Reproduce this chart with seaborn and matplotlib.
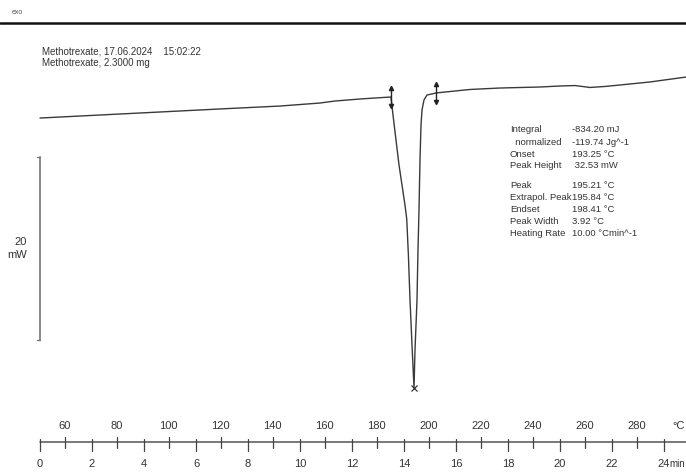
import numpy as np
import pandas as pd
import matplotlib
matplotlib.use("Agg")
import matplotlib.pyplot as plt
import seaborn as sns

# ---------------- data ----------------
temperature = [50.5, 73.6, 96.7, 119.7, 142.8, 158.2, 164.0, 173.6, 185.5,
               186.27, 187.42, 188.58, 189.73, 190.88, 191.55, 192.2, 192.81, 193.58, 194.35,
               194.73, 195.5, 195.88, 196.27, 196.65, 197.04, 197.42, 198.19, 199.35, 201.27, 202.8,
               215.9, 227.4, 242.8, 250.5, 256.3, 262.0, 267.8, 273.6, 285.1, 299.0]
heat_flow = [-1.97, -1.64, -1.31, -0.98, -0.66, -0.33, -0.11, 0.11, 0.33,
             -1.64, -4.37, -7.10, -9.29, -11.48, -13.0, -17.0, -21.86, -26.78, -31.48,
             -27.32, -21.86, -16.39, -12.02, -6.56, -2.73, -1.09, 0.0, 0.55, 0.66, 0.77,
             1.15, 1.31, 1.42, 1.53, 1.58, 1.37, 1.48, 1.64, 1.97, 2.51]

limits_T = [185.5, 202.8]           # integration limits
limits_mW = [0.33, 0.77]
peak_T = 194.35
peak_mW = -31.48

temp_ticks = [60, 80, 100, 120, 140, 160, 180, 200, 220, 240, 260, 280]
time_ticks = [0, 2, 4, 6, 8, 10, 12, 14, 16, 18, 20, 22, 24]
T_at_time0 = 50.5
heating_rate = 10.0                 # K/min

scale_bar_mW = 20
scale_bar_top = -6.23

header_lines = ["Methotrexate, 17.06.2024    15:02:22", "Methotrexate, 2.3000 mg"]
result_labels = ["Integral", "  normalized", "Onset", "Peak Height",
                 "Peak", "Extrapol. Peak", "Endset", "Peak Width", "Heating Rate"]
result_values = ["-834.20 mJ", "-119.74 Jg^-1", "193.25 °C", " 32.53 mW",
                 "195.21 °C", "195.84 °C", "198.41 °C", "3.92 °C", "10.00 °Cmin^-1"]

# ---------------- figure ----------------
sns.set_theme(style="white")
FONT = ["Liberation Sans Narrow", "Liberation Sans", "DejaVu Sans"]
plt.rcParams["font.family"] = FONT

W, H = 686, 473
fig = plt.figure(figsize=(W / 100, H / 100), dpi=100)
ax = fig.add_axes([0, 0, 1, 1])
ax.axis("off")

px_per_C = 2.6
px_per_mW = 9.15
x0_T = T_at_time0 - 40 / px_per_C
ax.set_xlim(x0_T, x0_T + W / px_per_C)
ax.set_ylim(-(H - 100) / px_per_mW, 100 / px_per_mW)

def fy(ypx):
    return 1 - ypx / H

df = pd.DataFrame({"T": temperature, "mW": heat_flow})
sns.lineplot(data=df, x="T", y="mW", sort=False, estimator=None,
             color="#3a3a3a", linewidth=1.0, ax=ax)

# integration limit markers
for t, m in zip(limits_T, limits_mW):
    ax.plot([t, t], [m + 1.1, m - 1.1], color="#222222", lw=1.0)
    ax.plot([t], [m + 1.0], marker="^", ms=3, color="#222222")
    ax.plot([t], [m - 1.0], marker="v", ms=3, color="#222222")
ax.plot([peak_T], [peak_mW], marker="x", ms=5, color="#333333", mew=0.9)

# scale bar
xb = T_at_time0
ax.plot([xb, xb], [scale_bar_top, scale_bar_top - scale_bar_mW], color="#777777", lw=1.2)
for yy in (scale_bar_top, scale_bar_top - scale_bar_mW):
    ax.plot([xb - 1.3, xb], [yy, yy], color="#777777", lw=1.0)
ax.text(xb - 5, scale_bar_top - scale_bar_mW / 2, "20\nmW", ha="right", va="center",
        fontsize=8, color="#333333", linespacing=1.3)

# top rule and small label
ax.plot([0, 1], [fy(23), fy(23)], transform=ax.transAxes, color="#111111", lw=1.8,
        clip_on=False)
ax.text(12 / W, fy(12), "exo", transform=ax.transAxes, fontsize=5, color="#555555",
        va="center", ha="left")

# header text
for i, line in enumerate(header_lines):
    ax.text(42 / W, fy(51 + i * 12), line, transform=ax.transAxes, fontsize=7,
            color="#333333", va="center", ha="left")

# results table
for i, (lab, val) in enumerate(zip(result_labels, result_values)):
    ypx = 130 + i * 12 + (7 if i >= 4 else 0)
    ax.text(510 / W, fy(ypx), lab, transform=ax.transAxes, fontsize=6.8,
            color="#333333", va="center", ha="left")
    ax.text(572 / W, fy(ypx), val, transform=ax.transAxes, fontsize=6.8,
            color="#333333", va="center", ha="left")

# custom bottom axis
tr = ax.get_xaxis_transform()
axis_y = fy(442)
ax.plot([T_at_time0, ax.get_xlim()[1]], [axis_y, axis_y], transform=tr,
        color="#555555", lw=1.1, clip_on=False)
for t in temp_ticks:
    ax.plot([t, t], [fy(437), fy(448)], transform=tr, color="#444444", lw=0.9)
    ax.text(t, fy(426), f"{t}", transform=tr, ha="center", va="center",
            fontsize=8, color="#333333")
for tm in time_ticks:
    tt = T_at_time0 + heating_rate * tm
    ax.plot([tt, tt], [fy(439), fy(451)], transform=tr, color="#444444", lw=0.9)
    ax.text(tt, fy(464), f"{tm}", transform=tr, ha="center", va="center",
            fontsize=8, color="#333333")
ax.text(685 / W, fy(426), "°C", transform=ax.transAxes, ha="right", va="center",
        fontsize=8, color="#333333")
ax.text(685 / W, fy(464), "min", transform=ax.transAxes, ha="right", va="center",
        fontsize=7, color="#333333")

fig.savefig("out.png", dpi=100)
